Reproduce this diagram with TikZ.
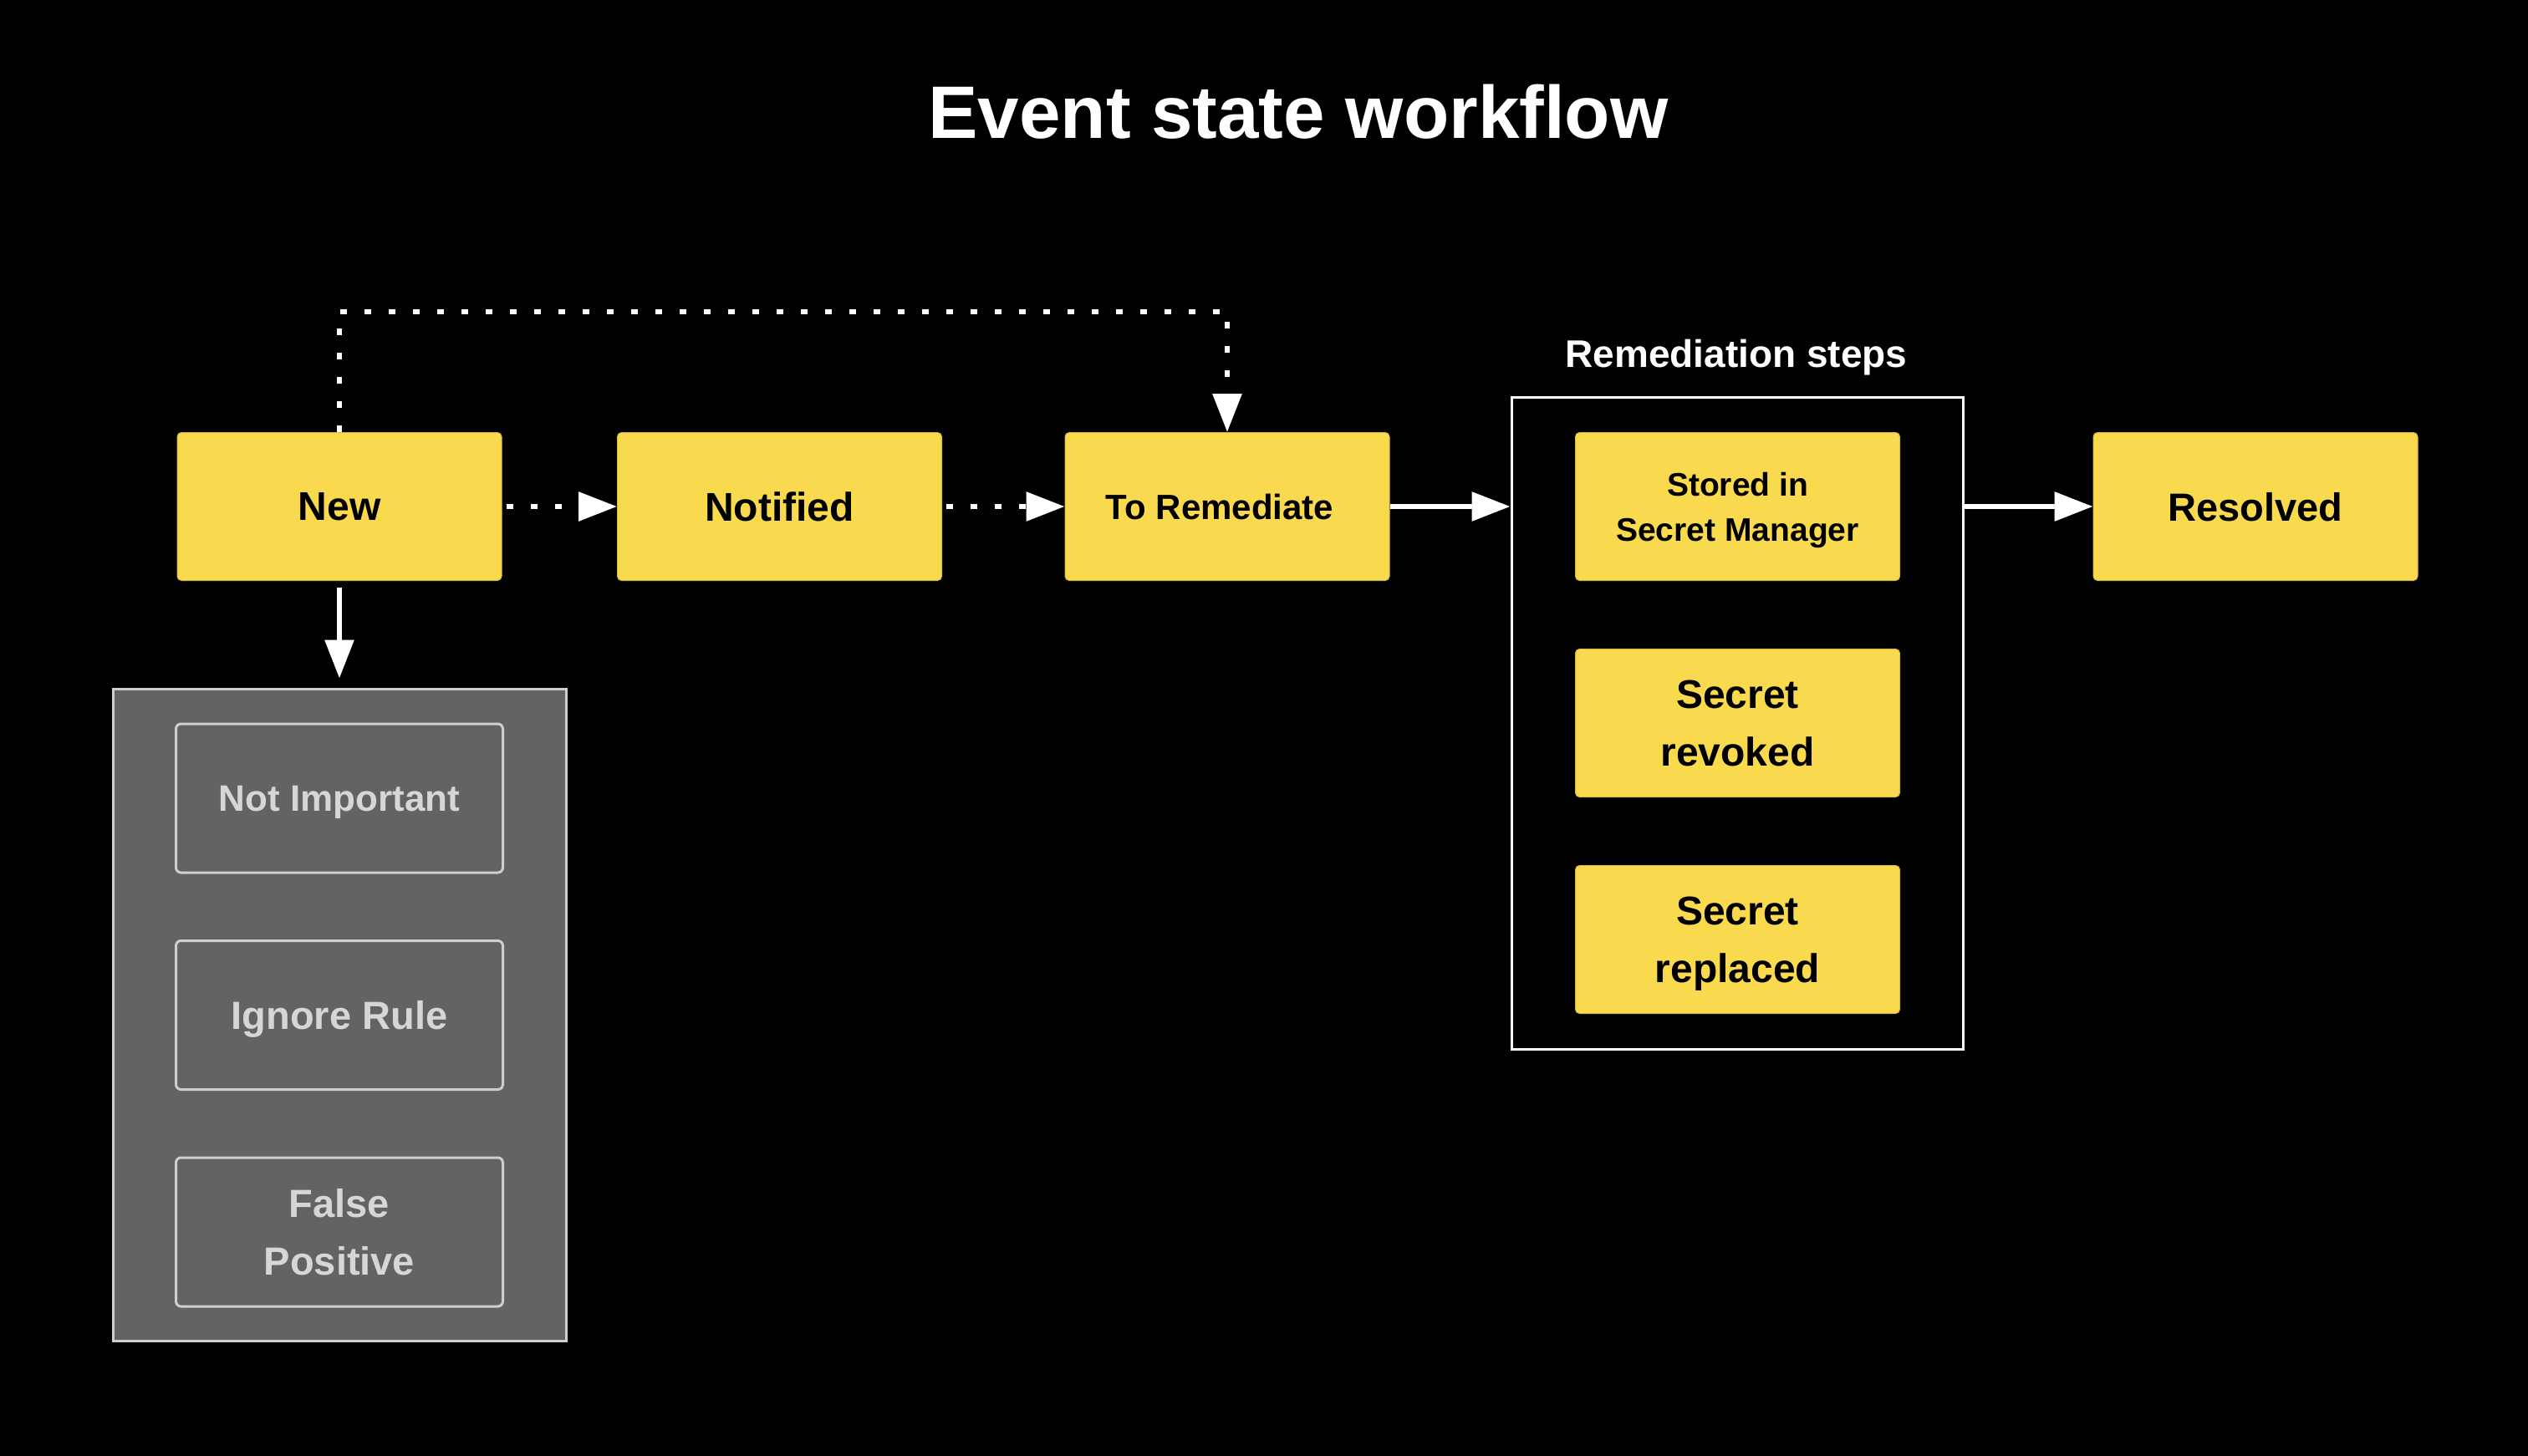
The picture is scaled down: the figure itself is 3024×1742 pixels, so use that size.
\documentclass[tikz,border=0pt]{standalone}
\usepackage{fontspec}
\setmainfont{Liberation Sans}
\usetikzlibrary{arrows.meta}
\definecolor{ylw}{HTML}{F9DA4E}
\definecolor{ylwd}{HTML}{D9BC3C}
\definecolor{gryfill}{HTML}{636365}
\definecolor{grline}{HTML}{CFCFCF}
\definecolor{grtext}{HTML}{D6D6D6}
\begin{document}
\begin{tikzpicture}[x=1pt,y=-1pt,
  ybox/.style={fill=ylw, draw=ylwd, line width=1pt, rounded corners=5pt,
    minimum width=388pt, minimum height=177pt, inner sep=0pt, align=center,
    text depth=0pt, text=black},
  gbox/.style={fill=gryfill, draw=grline, line width=3pt, rounded corners=6pt,
    minimum width=391pt, minimum height=178pt, inner sep=0pt, align=center,
    text=grtext, text depth=0pt},
  arr/.style={draw=white, line width=6pt, -{Triangle[length=46pt,width=34pt]}},
  darr/.style={arr, dash pattern=on 8pt off 21pt},
  fbig/.style={font=\bfseries\fontsize{48}{69}\selectfont},
  fmid/.style={font=\bfseries\fontsize{47}{69}\selectfont},
  fsmall/.style={font=\bfseries\fontsize{42}{54}\selectfont},
  fstored/.style={font=\bfseries\fontsize{39}{54}\selectfont},
  fgray/.style={font=\bfseries\fontsize{44}{69}\selectfont}
]
\fill[black] (0,0) rectangle (3024,1742);
\useasboundingbox (0,0) rectangle (3024,1742);

% title
\node[anchor=base, text=white, font=\bfseries\fontsize{89}{100}\selectfont] (title) at (1553,165) {Event state workflow};

% group frames
\node[draw=white, line width=3pt, minimum width=540pt, minimum height=780pt, inner sep=0pt] (rem) at (2078,865) {};
\node[anchor=base, text=white, font=\bfseries\fontsize{46}{54}\selectfont] (remlabel) at (2077,439) {Remediation steps};
\node[fill=gryfill, draw=grline, line width=3pt, minimum width=542pt, minimum height=780pt, inner sep=0pt] (grp) at (406,1214) {};

% main row
\node[ybox, fbig] (New) at (406,606) {New};
\node[ybox, fbig] (Notified) at (932.5,606) {Notified};
\node[ybox, fsmall] (ToRem) at (1468,606) {To Remediate\kern18pt};
\node[ybox, fmid] (Resolved) at (2698,606) {Resolved};

% remediation steps
\node[ybox, fstored] (Stored) at (2078.5,606) {Stored in\\Secret Manager};
\node[ybox, fbig] (Revoked) at (2078.5,865) {Secret\\revoked};
\node[ybox, fbig] (Replaced) at (2078.5,1124) {Secret\\replaced};

% gray options
\node[gbox, fgray] (NotImp) at (406,955) {Not Important};
\node[gbox, fmid] (Ignore) at (406,1214.5) {Ignore Rule};
\node[gbox, fmid] (FalsePos) at (406,1474) {False\\Positive};

% connectors
\coordinate (c1) at (406,373);
\coordinate (c2) at (1468,373);
\draw[darr] (New.north) -- (c1) -- (c2) -- (ToRem.north);
\draw[darr, shorten <=5pt] (New.east) -- (Notified.west);
\draw[darr, shorten <=5pt] (Notified.east) -- (ToRem.west);
\draw[arr] (ToRem.east) -- (ToRem.east -| rem.west);
\draw[arr] (rem.east |- Resolved.west) -- (Resolved.west);
\draw[arr, shorten <=8pt, shorten >=11pt] (New.south) -- (grp.north);
\end{tikzpicture}
\end{document}
